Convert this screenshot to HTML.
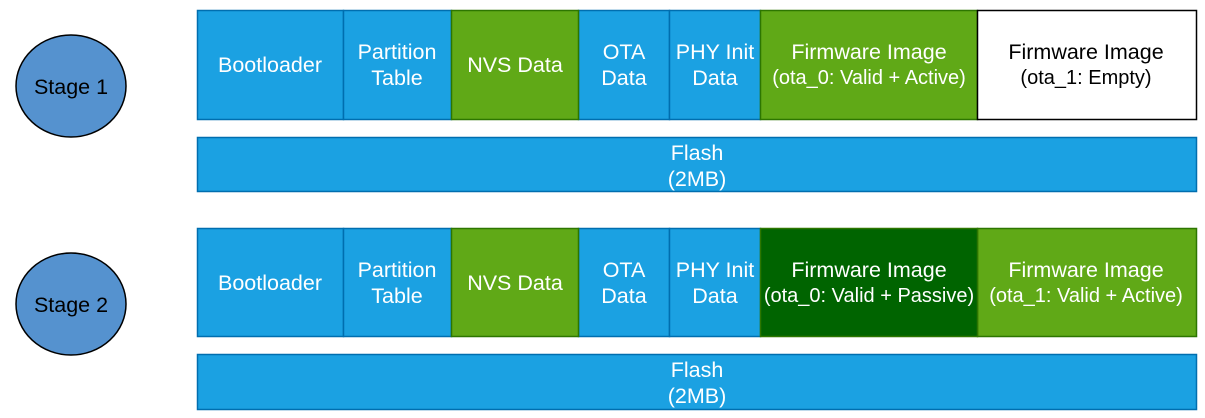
<!DOCTYPE html>
<html><head><style>body{margin:0;background:#fff}svg{display:block}text{font-family:"Liberation Sans",Arial,sans-serif;text-anchor:middle}</style></head><body>
<svg width="1205" height="418" viewBox="0 0 1205 418">
<g stroke-width="1.5">
<ellipse cx="71" cy="86" rx="55" ry="51" fill="#5592cf" stroke="#000"/>
<ellipse cx="71" cy="304" rx="55" ry="51" fill="#5592cf" stroke="#000"/>
<g stroke="#006eaf" fill="#1ba1e2">
<rect x="197.5" y="10.5" width="146" height="109"/>
<rect x="343.5" y="10.5" width="108" height="109"/>
<rect x="578.5" y="10.5" width="91" height="109"/>
<rect x="669.5" y="10.5" width="91" height="109"/>
<rect x="197.5" y="137.5" width="999" height="54"/>
<rect x="197.5" y="228.5" width="146" height="108"/>
<rect x="343.5" y="228.5" width="108" height="108"/>
<rect x="578.5" y="228.5" width="91" height="108"/>
<rect x="669.5" y="228.5" width="91" height="108"/>
<rect x="197.5" y="354.5" width="999" height="55"/>
</g>
<g stroke="#2d7600" fill="#60a917">
<rect x="451.5" y="10.5" width="127" height="109"/>
<rect x="760.5" y="10.5" width="217" height="109"/>
<rect x="451.5" y="228.5" width="127" height="108"/>
<rect x="977.5" y="228.5" width="219" height="108"/>
</g>
<rect x="760.5" y="228.5" width="217" height="108" fill="#006400" stroke="#2d7600"/>
<rect x="977.5" y="10.5" width="219" height="109" fill="#fff" stroke="#000"/>
</g>
<g font-size="21.5" fill="#000">
<text x="71" y="94">Stage 1</text>
<text x="71" y="312">Stage 2</text>
</g>
<g font-size="21.5" fill="#fff">
<text x="270" y="72">Bootloader</text>
<text x="397" y="59">Partition</text><text x="397" y="85">Table</text>
<text x="515" y="72">NVS Data</text>
<text x="624" y="59">OTA</text><text x="624" y="85">Data</text>
<text x="715" y="59">PHY Init</text><text x="715" y="85">Data</text>
<text x="869" y="59">Firmware Image</text>
<text x="869" y="84" font-size="20">(ota_0: Valid + Active)</text>
<text x="697" y="160">Flash</text><text x="697" y="186">(2MB)</text>
<text x="270" y="290">Bootloader</text>
<text x="397" y="277">Partition</text><text x="397" y="303">Table</text>
<text x="515" y="290">NVS Data</text>
<text x="624" y="277">OTA</text><text x="624" y="303">Data</text>
<text x="715" y="277">PHY Init</text><text x="715" y="303">Data</text>
<text x="869" y="277">Firmware Image</text>
<text x="869" y="302" font-size="20">(ota_0: Valid + Passive)</text>
<text x="1086" y="277">Firmware Image</text>
<text x="1086" y="302" font-size="20">(ota_1: Valid + Active)</text>
<text x="697" y="377">Flash</text><text x="697" y="403">(2MB)</text>
</g>
<g fill="#000">
<text x="1086" y="59" font-size="21.5">Firmware Image</text>
<text x="1086" y="84" font-size="20">(ota_1: Empty)</text>
</g>
</svg>
</body></html>
